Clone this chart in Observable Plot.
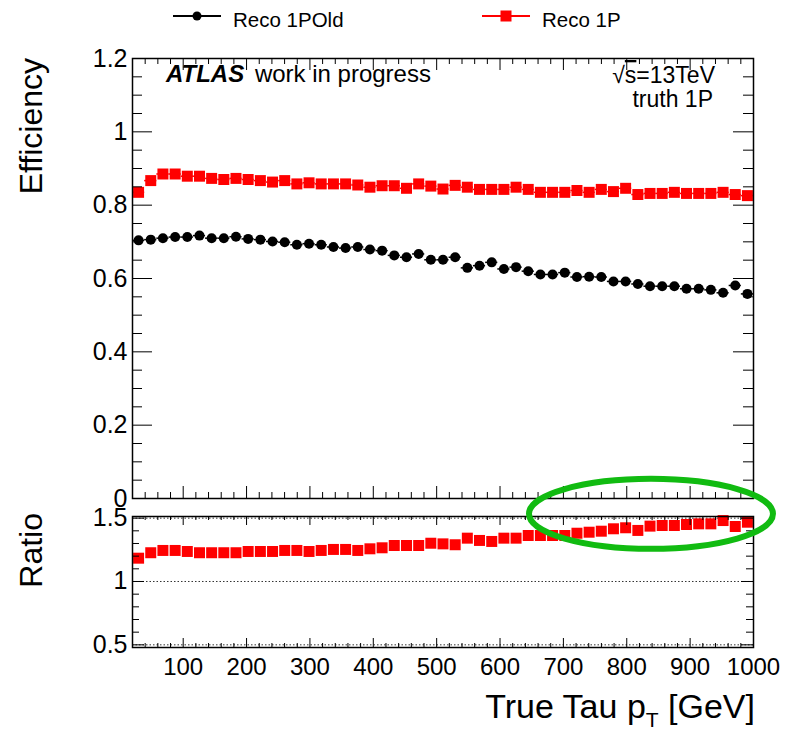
<!DOCTYPE html>
<html><head><meta charset="utf-8">
<script src="https://cdn.jsdelivr.net/npm/d3@7"></script>
<script src="https://cdn.jsdelivr.net/npm/@observablehq/plot@0.6"></script>
<style>
body{margin:0;background:#fff}
#chart{position:relative;width:789px;height:733px;background:#fff;overflow:hidden}
#chart svg{position:absolute;left:0;overflow:visible}
</style>
</head><body><div id="chart"></div>
<script>
// ---- data ----
const ptCenters = [29.6, 48.8, 68.0, 87.3, 106.5, 125.7, 144.9, 164.1, 183.3, 202.5, 221.8, 241.0, 260.2, 279.4, 298.6, 317.8, 337.1, 356.3, 375.5, 394.7, 413.9, 433.1, 452.4, 471.6, 490.8, 510.0, 529.2, 548.4, 567.6, 586.9, 606.1, 625.3, 644.5, 663.7, 682.9, 702.2, 721.4, 740.6, 759.8, 779.0, 798.2, 817.5, 836.7, 855.9, 875.1, 894.3, 913.5, 932.7, 952.0, 971.2, 990.4];
const binHalfWidth = 9.6;
const effOld = [0.704, 0.706, 0.710, 0.713, 0.713, 0.717, 0.710, 0.710, 0.714, 0.708, 0.706, 0.701, 0.699, 0.692, 0.695, 0.692, 0.686, 0.683, 0.686, 0.679, 0.676, 0.663, 0.658, 0.667, 0.651, 0.651, 0.658, 0.629, 0.635, 0.644, 0.626, 0.631, 0.620, 0.611, 0.611, 0.616, 0.604, 0.605, 0.604, 0.592, 0.592, 0.585, 0.579, 0.579, 0.579, 0.572, 0.572, 0.569, 0.561, 0.581, 0.558];
const effNew = [0.835, 0.867, 0.885, 0.885, 0.879, 0.879, 0.873, 0.870, 0.873, 0.870, 0.867, 0.863, 0.867, 0.858, 0.861, 0.858, 0.858, 0.858, 0.855, 0.849, 0.853, 0.853, 0.846, 0.858, 0.852, 0.844, 0.854, 0.849, 0.843, 0.843, 0.843, 0.849, 0.843, 0.835, 0.835, 0.835, 0.840, 0.835, 0.843, 0.837, 0.846, 0.829, 0.832, 0.832, 0.835, 0.832, 0.832, 0.832, 0.835, 0.829, 0.826];
const ratioVals = [1.184, 1.227, 1.245, 1.245, 1.237, 1.227, 1.227, 1.227, 1.227, 1.237, 1.237, 1.237, 1.245, 1.245, 1.237, 1.245, 1.253, 1.253, 1.245, 1.258, 1.266, 1.284, 1.284, 1.284, 1.302, 1.297, 1.290, 1.342, 1.324, 1.316, 1.342, 1.342, 1.363, 1.363, 1.363, 1.363, 1.381, 1.389, 1.397, 1.416, 1.424, 1.403, 1.437, 1.442, 1.442, 1.450, 1.455, 1.455, 1.481, 1.434, 1.468];
const seriesNames = ["Reco 1POld", "Reco 1P"];
const xMajorTicks = [100, 200, 300, 400, 500, 600, 700, 800, 900, 1000];
const effTicks = [0, 0.2, 0.4, 0.6, 0.8, 1, 1.2];
const ratioTicks = [0.5, 1, 1.5];
const ratioRefLines = [0.5, 1, 1.5];

// ---- styling ----
const FONT = "'Liberation Sans', Arial, Helvetica, sans-serif";
const RED = "#ff0000";
const W = 789;
const mL = 132, mR = 36;
const frameW = W - mL - mR;

const rows = ptCenters.map((x, i) => ({x, old: effOld[i], neu: effNew[i], ratio: ratioVals[i]}));
const xMinor = d3.range(20, 1001, 20).filter(v => v % 100 !== 0);
const effMinor = d3.range(0, 1.2001, 0.05).map(v => +v.toFixed(2)).filter(v => !effTicks.includes(v));
const ratioMinor = [0.6, 0.7, 0.8, 0.9, 1.1, 1.2, 1.3, 1.4];
const fmt = d3.format("~g");

function tickMarks(frameH, xMaj, xMin, yMajV, yMinV, yMajorLen, yMinorLen) {
  const s = {stroke: "black", strokeWidth: 1};
  return [
    Plot.ruleX(xMajorTicks, {...s, insetTop: frameH - xMaj}),
    Plot.ruleX(xMinor, {...s, insetTop: frameH - xMin}),
    Plot.ruleX(xMajorTicks, {...s, insetBottom: frameH - xMaj}),
    Plot.ruleX(xMinor, {...s, insetBottom: frameH - xMin}),
    Plot.ruleY(yMajV, {...s, insetRight: frameW - yMajorLen}),
    Plot.ruleY(yMinV, {...s, insetRight: frameW - yMinorLen}),
    Plot.ruleY(yMajV, {...s, insetLeft: frameW - yMajorLen}),
    Plot.ruleY(yMinV, {...s, insetLeft: frameW - yMinorLen})
  ];
}

const chart = document.getElementById("chart");

// ---- upper panel (frame spans y 58..498) ----
const upH = 512, upTop = 58, upBottom = 14;
const upper = Plot.plot({
  width: W, height: upH,
  marginLeft: mL, marginRight: mR, marginTop: upTop, marginBottom: upBottom,
  style: {fontFamily: FONT, background: "transparent", color: "black", overflow: "visible"},
  x: {domain: [20, 1000], axis: null},
  y: {domain: [0, 1.2]},
  marks: [
    Plot.ruleY(rows, {y: "old", x1: d => d.x - binHalfWidth, x2: d => d.x + binHalfWidth, stroke: "black", strokeWidth: 1.5}),
    Plot.dot(rows, {x: "x", y: "old", r: 5, fill: "black", stroke: "none"}),
    Plot.ruleY(rows, {y: "neu", x1: d => d.x - binHalfWidth, x2: d => d.x + binHalfWidth, stroke: RED, strokeWidth: 1.5}),
    Plot.dot(rows, {x: "x", y: "neu", symbol: "square", r: 6.2, fill: RED, stroke: "none"}),
    ...tickMarks(upH - upTop - upBottom, 12, 6, effTicks, effMinor, 20, 10),
    Plot.frame({stroke: "black", strokeWidth: 1.5}),
    Plot.axisY(effTicks, {tickSize: 0, tickPadding: 5, fontSize: 25, tickFormat: fmt, label: null})
  ]
});
upper.style.top = "0px";
chart.appendChild(upper);

// ---- ratio panel (frame spans y 516..647) ----
const loTopPx = 500, loH = 233, loTop = 16, loBottom = 86;
const lower = Plot.plot({
  width: W, height: loH,
  marginLeft: mL, marginRight: mR, marginTop: loTop, marginBottom: loBottom,
  style: {fontFamily: FONT, background: "transparent", color: "black", overflow: "visible"},
  x: {domain: [20, 1000]},
  y: {domain: [0.479, 1.513]},
  marks: [
    Plot.ruleY(ratioRefLines, {stroke: "#333", strokeWidth: 1, strokeDasharray: "1.5,2"}),
    Plot.dot(rows, {x: "x", y: "ratio", symbol: "square", r: 6.2, fill: RED, stroke: "none"}),
    ...tickMarks(loH - loTop - loBottom, 9, 4, ratioTicks, ratioMinor, 12, 7),
    Plot.frame({stroke: "black", strokeWidth: 1.5}),
    Plot.axisY(ratioTicks, {tickSize: 0, tickPadding: 5, fontSize: 25, tickFormat: fmt, label: null}),
    Plot.axisX(xMajorTicks, {tickSize: 0, tickPadding: 10, fontSize: 24, tickFormat: d => String(d), label: null})
  ]
});
lower.style.top = loTopPx + "px";
chart.appendChild(lower);

// ---- texts inside svgs ----
const up = d3.select(upper);
up.append("text").attr("transform", `translate(${mL - 101},${upTop}) rotate(-90)`)
  .attr("text-anchor", "end").attr("dy", "0.35em").attr("font-size", 32).attr("font-family", FONT).text("Efficiency");
const atl = up.append("text").attr("x", 166).attr("y", 82).attr("text-anchor", "start").attr("font-size", 24).attr("font-family", FONT);
atl.append("tspan").attr("font-weight", "bold").attr("font-style", "italic").text("ATLAS");
atl.append("tspan").attr("dx", 4).text(" work in progress");
const sq = up.append("text").attr("x", 715).attr("y", 83).attr("text-anchor", "end").attr("font-size", 23).attr("font-family", FONT);
sq.append("tspan").text("√");
sq.append("tspan").attr("text-decoration", "overline").text("s");
sq.append("tspan").text("=13TeV");
up.append("text").attr("x", 713).attr("y", 107).attr("text-anchor", "end").attr("font-size", 23).attr("font-family", FONT).text("truth 1P");

const lo = d3.select(lower);
lo.append("text").attr("transform", `translate(${mL - 101},${loTop - 3}) rotate(-90)`)
  .attr("text-anchor", "end").attr("dy", "0.35em").attr("font-size", 32).attr("font-family", FONT).text("Ratio");
const xt = lo.append("text").attr("x", mL + frameW + 2).attr("y", 218).attr("text-anchor", "end").attr("font-size", 34).attr("font-family", FONT);
xt.append("tspan").text("True Tau p");
xt.append("tspan").attr("font-size", 21).attr("dy", 9).text("T");
xt.append("tspan").attr("dy", -9).text(" [GeV]");

// ---- legend ----
const leg = d3.select(chart).append("svg").attr("width", W).attr("height", 40).style("top", "0px");
const legItems = [
  {name: seriesNames[0], x0: 173, color: "black", sym: "circle"},
  {name: seriesNames[1], x0: 482, color: RED, sym: "square"}
];
legItems.forEach(it => {
  const g = leg.append("g");
  g.append("line").attr("x1", it.x0).attr("x2", it.x0 + 48).attr("y1", 16).attr("y2", 16).attr("stroke", it.color).attr("stroke-width", 2);
  if (it.sym === "circle") g.append("circle").attr("cx", it.x0 + 24).attr("cy", 16).attr("r", 4.5).attr("fill", it.color);
  else g.append("rect").attr("x", it.x0 + 24 - 5.5).attr("y", 16 - 5.5).attr("width", 11).attr("height", 11).attr("fill", it.color);
  g.append("text").attr("x", it.x0 + 60).attr("y", 27).attr("font-size", 20.5).attr("font-family", FONT).text(it.name);
});

// ---- green highlight ellipse (annotation) ----
const xs = lower.scale("x"), ys = lower.scale("y");
const ov = d3.select(chart).append("svg").attr("width", W).attr("height", 733).style("top", "0px").style("pointer-events", "none");
ov.append("ellipse")
  .attr("cx", xs.apply(839)).attr("cy", loTopPx + ys.apply(1.53))
  .attr("rx", 122).attr("ry", 35)
  .attr("fill", "none").attr("stroke", "#11bb11").attr("stroke-width", 6);
</script>
</body></html>
